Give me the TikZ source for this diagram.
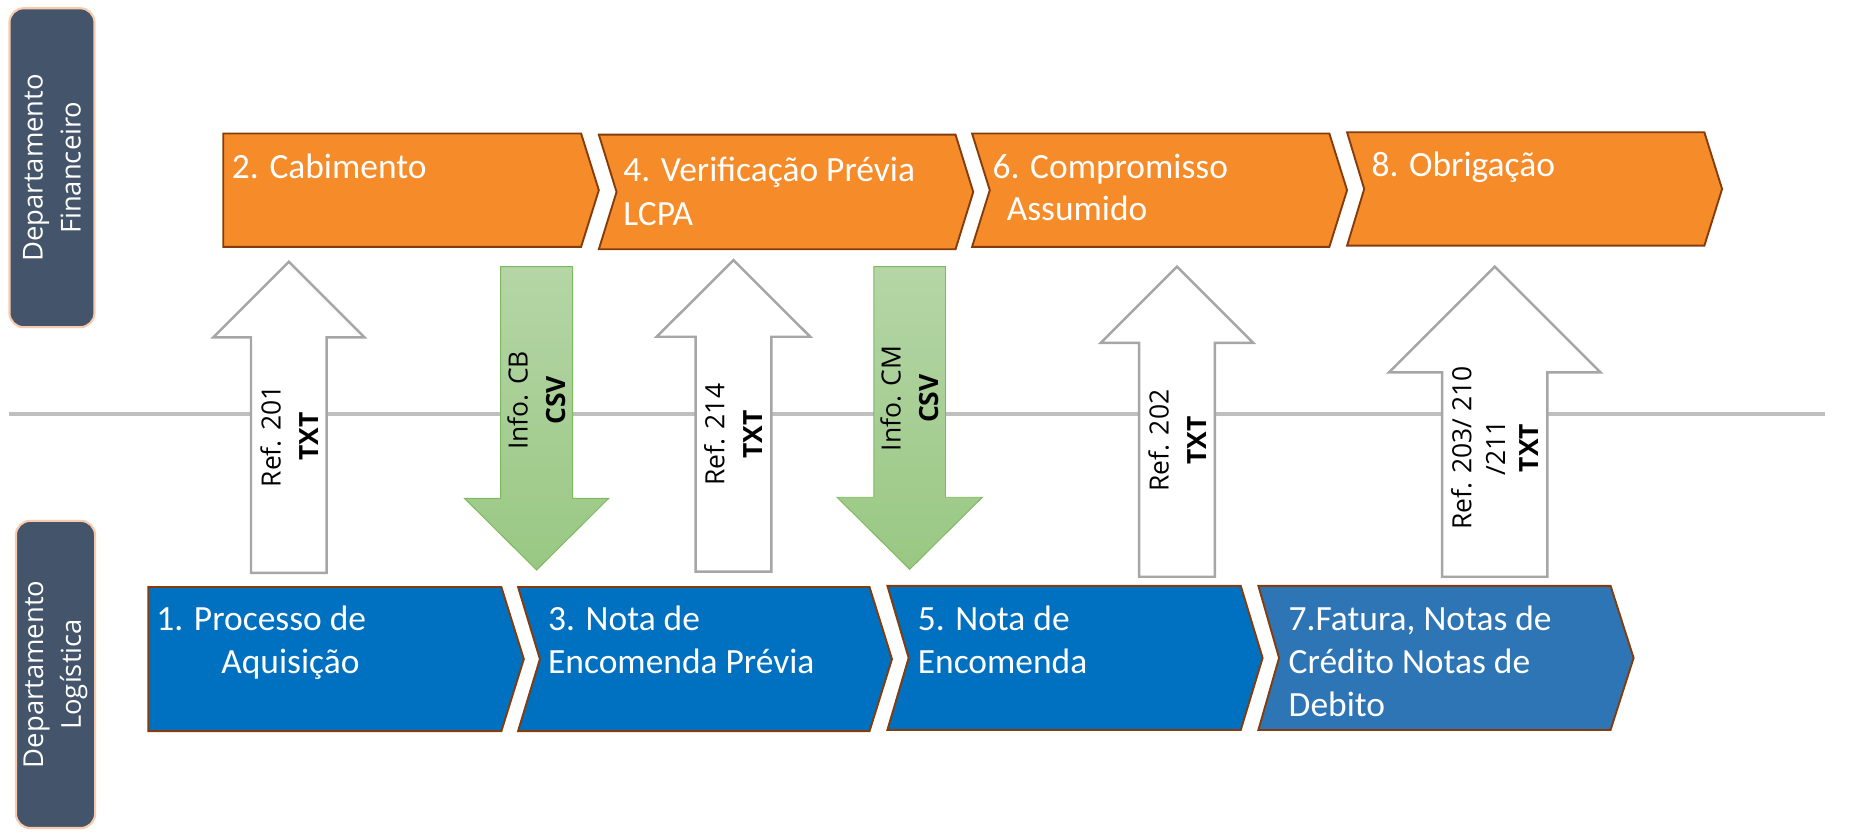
\documentclass[tikz,border=0pt]{standalone}
\usepackage{fontspec}
\setmainfont{Carlito}
\newfontfamily\osans{Open Sans}
\definecolor{deptfill}{HTML}{44546A}
\definecolor{deptborder}{HTML}{F8CBAD}
\definecolor{orangefill}{HTML}{F68B29}
\definecolor{brownline}{HTML}{843C0C}
\definecolor{bluefill}{HTML}{0070C0}
\definecolor{bluefillb}{HTML}{2E75B6}
\definecolor{grayline}{HTML}{A6A6A6}
\definecolor{sepgray}{HTML}{BFBFBF}
\definecolor{greentop}{HTML}{B5D5A6}
\definecolor{greenbot}{HTML}{99C883}
\definecolor{greenline}{HTML}{7DB95E}
% chevron: style, xleft, xright, ytop, ybottom, notch depth, point depth
\newcommand\chev[7]{\path[#1] (#2,#4) -- (#3,#4) -- ({#3+#7},{(#4+#5)/2}) -- (#3,#5) -- (#2,#5) -- ({#2+#6},{(#4+#5)/2}) -- cycle;}
% block arrow: style, cx, tip y, head base y, tail y, head half width, shaft half width
\newcommand\blockarr[7]{\path[#1] (#2,#3) -- ({#2+#6},#4) -- ({#2+#7},#4) -- ({#2+#7},#5) -- ({#2-#7},#5) -- ({#2-#7},#4) -- ({#2-#6},#4) -- cycle;}
\begin{document}
\begin{tikzpicture}[x=0.5pt,y=-0.5pt,
  dept/.style={draw=deptborder, line width=0.9pt, fill=deptfill, rounded corners=6pt,
    text=white, font=\osans\fontsize{11.6}{16}\selectfont, align=center, rotate=90, inner sep=0pt},
  orangebox/.style={fill=orangefill, draw=brownline, line width=0.8pt},
  bluebox/.style={fill=bluefill, draw=brownline, line width=0.8pt},
  blueboxb/.style={fill=bluefillb, draw=brownline, line width=0.8pt},
  whitearrow/.style={fill=white, draw=grayline, line width=1.05pt},
  greenarrow/.style={top color=greentop, bottom color=greenbot, draw=greenline, line width=0.4pt},
  sepline/.style={draw=sepgray, line width=1.4pt},
  boxtext/.style={text=white, font=\fontsize{15}{18.3}\selectfont, align=left, inner sep=0pt, anchor=base west},
  arrtext/.style={text=black, font=\osans\fontsize{11.2}{16}\selectfont, align=center, rotate=90, inner sep=0pt}
]
\useasboundingbox (0,0) rectangle (1568,709);
% separator line
\coordinate (lineL) at (8,350.5);
\coordinate (lineR) at (1545,350.5);
\draw[sepline] (lineL) -- (lineR);
% department labels
\node[dept, minimum width=135pt, minimum height=36pt] (fin) at (44,142) {Departamento\\Financeiro};
\node[dept, minimum width=130pt, minimum height=33.5pt] (log) at (47,571) {Departamento\\Logística};
% block arrows
\blockarr{whitearrow}{244.5}{221.6}{285.6}{485}{64}{32}
\blockarr{greenarrow}{454.3}{482.6}{422}{225.8}{61}{30.5}
\blockarr{whitearrow}{621}{220.2}{285.1}{484}{65}{32}
\blockarr{greenarrow}{770.2}{482}{421}{225.8}{61.5}{30.3}
\blockarr{whitearrow}{996.5}{225.8}{290.2}{488.3}{64.5}{32}
\blockarr{whitearrow}{1265.5}{225.8}{315.3}{488.3}{89.5}{44.5}
% arrow labels
\node[arrtext] (a1) at (245,369.5) {Ref. 201\\\textbf{TXT}};
\node[arrtext] (g1) at (454.3,339) {Info. CB\\\textbf{CSV}};
\node[arrtext] (a2) at (620.7,368) {Ref. 214\\\textbf{TXT}};
\node[arrtext] (g2) at (770,337.5) {Info. CM\\\textbf{CSV}};
\node[arrtext] (a3) at (996.9,373) {Ref. 202\\\textbf{TXT}};
\node[arrtext, font=\osans\fontsize{11.2}{14.3}\selectfont] (a4) at (1265.7,379.3) {Ref. 203/ 210\\/211\\\textbf{TXT}};
% orange chevrons (Departamento Financeiro)
\chev{orangebox}{189}{492}{113}{209}{0}{15}
\chev{orangebox}{507}{809}{114}{211}{15}{15}
\chev{orangebox}{823}{1125.5}{113}{209}{15}{15}
\chev{orangebox}{1140.5}{1443}{112}{208}{14.5}{15}
% blue chevrons (Departamento Logistica)
\chev{bluebox}{125.5}{424.5}{497}{619}{0}{19}
\chev{bluebox}{438.6}{736.2}{497}{619}{18.5}{19}
\chev{bluebox}{751.3}{1050.5}{496}{618}{18}{18.5}
\chev{blueboxb}{1065.4}{1363.6}{496}{618}{17.5}{19.5}
% box texts (anchored at the baseline of the last line)
\node[boxtext] (t2) at (196,151) {2. Cabimento};
\node[boxtext] (t4) at (527.4,190.5) {4. Verificação Prévia\\LCPA};
\node[boxtext, font=\fontsize{15}{17.6}\selectfont] (t6) at (840,186.3) {6. Compromisso\\\hspace*{6pt}Assumido};
\node[boxtext] (t8) at (1160.8,149.6) {8. Obrigação};
\node[boxtext] (t1) at (132,570) {1. Processo de\\\hspace*{27.5pt}Aquisição};
\node[boxtext] (t3) at (463.7,570) {3. Nota de\\Encomenda Prévia};
\node[boxtext] (t5) at (776.7,570) {5. Nota de\\Encomenda};
\node[boxtext] (t7) at (1090.7,606.8) {7.Fatura, Notas de\\Crédito Notas de\\Debito};
\end{tikzpicture}
\end{document}
